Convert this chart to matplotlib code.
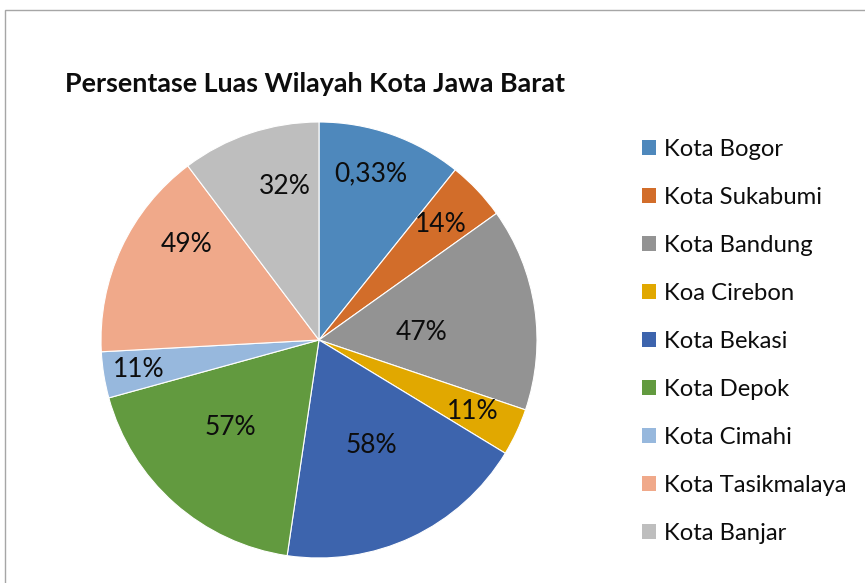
import matplotlib
matplotlib.use("Agg")
import matplotlib.pyplot as plt
from matplotlib.patches import Patch, Rectangle
import numpy as np

categories = ["Kota Bogor", "Kota Sukabumi", "Kota Bandung", "Koa Cirebon", "Kota Bekasi",
              "Kota Depok", "Kota Cimahi", "Kota Tasikmalaya", "Kota Banjar"]
# slice sizes (degrees)
slice_sizes = [38.7, 15.8, 54.2, 12.6, 67.1, 66.2, 12.3, 56.1, 37.0]
# data label texts as shown
label_texts = ["0,33%", "14%", "47%", "11%", "58%", "57%", "11%", "49%", "32%"]

colors = ["#4E88BC", "#D26D2A", "#939393", "#E1A800", "#3D64AD",
          "#629A3F", "#97B8DD", "#F0A98A", "#BEBEBE"]
label_radii = [0.80, 0.77, 0.47, 0.78, 0.54, 0.57, 0.84, 0.75, 0.72]
label_angle_offsets = [2, 0, -4, 0, 1.5, -4, 0, -11, -6]

plt.rcParams['font.family'] = ['Lato', 'DejaVu Sans']

W, H = 865, 583
fig = plt.figure(figsize=(W / 100, H / 100), dpi=100)
fig.patch.set_facecolor("white")

# chart border
fig.patches.append(Rectangle((5 / W, -0.1), 1.2, (H - 10) / H + 0.1, transform=fig.transFigure,
                             fill=False, edgecolor="#A6A6A6", linewidth=1.0))

cx, cy, r = 319, 340, 218
ax = fig.add_axes([(cx - r) / W, (H - cy - r) / H, 2 * r / W, 2 * r / H])
wedges, _ = ax.pie(slice_sizes, colors=colors, startangle=90, counterclock=False,
                   wedgeprops=dict(edgecolor="white", linewidth=0.8))
ax.set_xlim(-1, 1)
ax.set_ylim(-1, 1)
ax.set_aspect("equal")
ax.axis("off")

for w, txt, rr, off in zip(wedges, label_texts, label_radii, label_angle_offsets):
    mid = np.deg2rad((w.theta1 + w.theta2) / 2 + off)
    ax.text(rr * np.cos(mid), rr * np.sin(mid), txt, ha="center", va="center",
            fontsize=19, color="#0D0D0D")

fig.text(65 / W, 1 - 84 / H, "Persentase Luas Wilayah Kota Jawa Barat", fontsize=19.4,
         fontweight="bold", ha="left", va="center", color="#0D0D0D")

handles = [Patch(facecolor=c, edgecolor="none") for c in colors]
leg = fig.legend(handles, categories, loc="upper left", bbox_to_anchor=(642 / W, 1 - 139 / H),
                 frameon=False, fontsize=17.2, handlelength=0.6, handleheight=0.6,
                 handletextpad=0.32, labelspacing=1.13, borderaxespad=0, borderpad=0)
for t in leg.get_texts():
    t.set_color("#0D0D0D")

fig.savefig("out.png", dpi=100)
